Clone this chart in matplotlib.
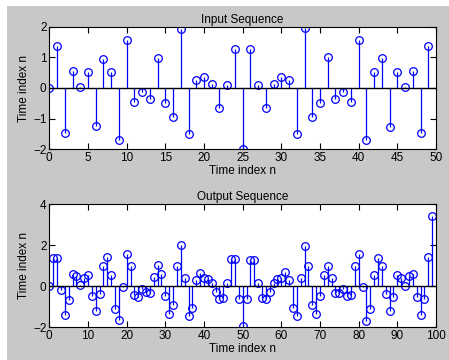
import numpy as np
import matplotlib
matplotlib.use('Agg')
import matplotlib.pyplot as plt
from matplotlib.patches import Rectangle

# input sequence x[n], n = 0..49
x_in = [0.00, 1.37, -1.47, 0.55, 0.02, 0.52, -1.25, 0.96, 0.52, -1.70,
        1.57, -0.45, -0.13, -0.36, 0.98, -0.50, -0.93, 1.94, -1.49, 0.26,
        0.37, 0.14, -0.64, 0.11, 1.27, -2.00, 1.27, 0.11, -0.65, 0.13,
        0.37, 0.26, -1.50, 1.96, -0.94, -0.50, 1.00, -0.35, -0.13, -0.45,
        1.58, -1.70, 0.53, 0.97, -1.26, 0.53, 0.02, 0.56, -1.47, 1.38]

# output sequence y[n], n = 0..99
y_out = [0.00, 1.35, 1.39, -0.18, -1.43, -0.70, 0.58, 0.49, 0.07, 0.39,
         0.52, -0.50, -1.20, -0.37, 0.98, 1.42, 0.52, -1.12, -1.68, -0.05,
         1.56, 0.98, -0.42, -0.54, -0.13, -0.27, -0.33, 0.44, 1.01, 0.57,
         -0.49, -1.35, -0.93, 0.96, 1.99, 0.39, -1.47, -1.09, 0.28, 0.65,
         0.39, 0.34, 0.13, -0.29, -0.64, -0.60, 0.14, 1.31, 1.31, -0.64,
         -1.97, -0.64, 1.30, 1.30, 0.13, -0.60, -0.64, -0.29, 0.13, 0.33,
         0.39, 0.67, 0.28, -1.08, -1.47, 0.39, 1.97, 0.96, -0.91, -1.34,
         -0.49, 0.55, 1.00, 0.42, -0.34, -0.34, -0.13, -0.50, -0.42, 0.96,
         1.58, -0.03, -1.70, -1.13, 0.52, 1.39, 0.96, -0.38, -1.20, -0.54,
         0.52, 0.41, 0.02, 0.47, 0.57, -0.55, -1.43, -0.64, 1.40, 3.41]

plt.rcParams['font.family'] = ['Liberation Sans', 'DejaVu Sans']
plt.rcParams['font.size'] = 8.5

W, H = 449, 360
fig = plt.figure(figsize=(W / 100, H / 100), dpi=100)
fig.patch.set_facecolor('white')
# grey MATLAB-style window background
fig.patches.append(Rectangle((7 / W, 0), 1 - 7 / W, 1 - 6 / H, transform=fig.transFigure,
                             facecolor='#c8c8c8', edgecolor='none', zorder=-10))


def stem_axes(rect, data, xlim, ylim, xticks, yticks, title):
    ax = fig.add_axes(rect)
    n = np.arange(len(data))
    ml, sl, bl = ax.stem(n, data, basefmt='k-')
    plt.setp(ml, marker='o', markersize=5.5, markerfacecolor='none',
             markeredgecolor='#0000ff', markeredgewidth=0.9)
    plt.setp(sl, color='#0000ff', linewidth=0.9)
    plt.setp(bl, color='black', linewidth=1.0)
    bl.set_xdata([xlim[0], xlim[1]])
    ax.set_xlim(*xlim)
    ax.set_ylim(*ylim)
    ax.set_xticks(xticks)
    ax.set_yticks(yticks)
    ax.tick_params(direction='in', length=4, top=True, right=True, pad=2, width=0.8)
    for s in ax.spines.values():
        s.set_linewidth(0.8)
    ax.set_title(title, fontsize=8.5, pad=3)
    ax.set_xlabel('Time index n', labelpad=1)
    ax.set_ylabel('Time index n', labelpad=2)
    return ax


stem_axes([49.3 / W, 1 - 149.3 / H, 386.7 / W, 122.6 / H], x_in, (0, 50), (-2, 2),
          range(0, 51, 5), [-2, -1, 0, 1, 2], 'Input Sequence')
stem_axes([49.3 / W, 1 - 327 / H, 386.7 / W, 122.7 / H], y_out, (0, 100), (-2, 4),
          range(0, 101, 10), [-2, 0, 2, 4], 'Output Sequence')

fig.savefig('out.png', dpi=100, facecolor=fig.get_facecolor())
